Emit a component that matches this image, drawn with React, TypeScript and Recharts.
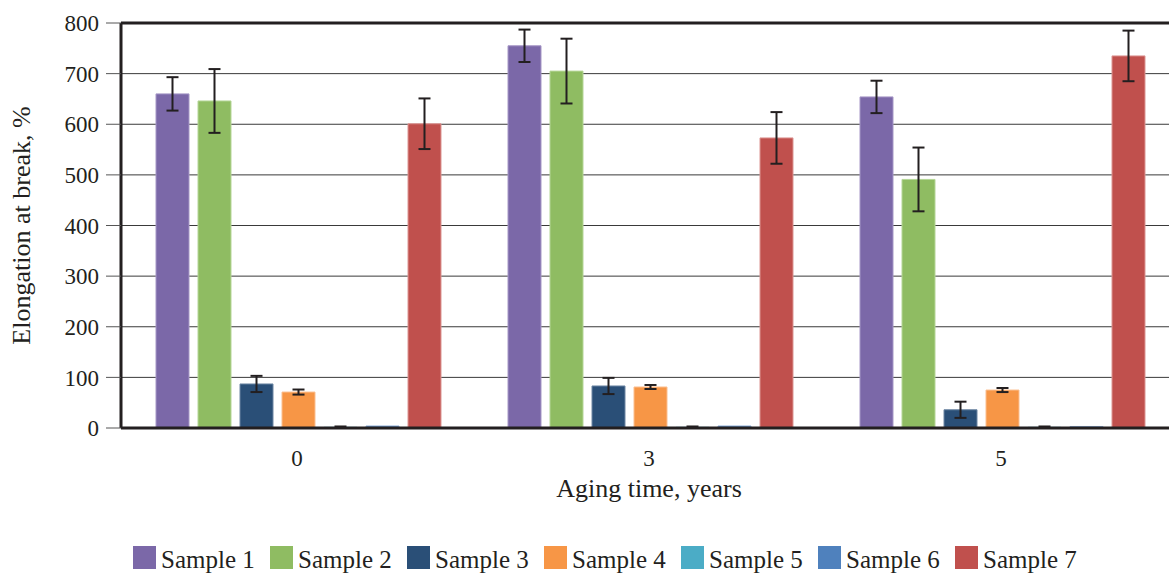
import React from 'react';
import { BarChart, Bar, XAxis, YAxis, CartesianGrid, ErrorBar, ReferenceLine } from 'recharts';

const categories = ['0', '3', '5'];
const sample1 = [660, 755, 654];
const sample1Err = [33, 32, 32];
const sample2 = [646, 705, 491];
const sample2Err = [63, 64, 63];
const sample3 = [87, 83, 36];
const sample3Err = [16, 16, 16];
const sample4 = [71, 81, 75];
const sample4Err = [5, 4, 4];
const sample5 = [1.5, 1.5, 1.5];
const sample5Err = [1.5, 1.5, 1.5];
const sample6 = [4, 4, 3];
const sample7 = [601, 573, 735];
const sample7Err = [50, 51, 50];
const yTicks = [0, 100, 200, 300, 400, 500, 600, 700, 800];

const seriesNames = ['Sample 1', 'Sample 2', 'Sample 3', 'Sample 4', 'Sample 5', 'Sample 6', 'Sample 7'];
const colors = ['#7b68a8', '#8fbc62', '#2a4f77', '#f79646', '#4bacc6', '#4f81bd', '#c0504d'];
const edgeColors = ['#a697c6', '#b5d697', '#6c86a3', '#fbbf90', '#8fcfe0', '#93b2da', '#dc9593'];

const data = categories.map((c, i) => ({
  cat: c,
  s1: sample1[i], e1: sample1Err[i],
  s2: sample2[i], e2: sample2Err[i],
  s3: sample3[i], e3: sample3Err[i],
  s4: sample4[i], e4: sample4Err[i],
  s5: sample5[i], e5: sample5Err[i],
  s6: sample6[i],
  s7: sample7[i], e7: sample7Err[i],
}));

const FONT = '"Liberation Serif", serif';
const TEXT = '#231f20';
const errKeys = ['e1', 'e2', 'e3', 'e4', 'e5', null, 'e7'];

export default function App() {
  return (
    <div style={{ position: 'relative', width: 1169, height: 574, overflow: 'hidden', background: '#fff' }}>
      <style>{`body{margin:0;overflow:hidden;background:#fff}`}</style>
      <div style={{ position: 'absolute', left: 0, top: 0 }}>
        <BarChart
          width={1200}
          height={525}
          data={data}
          margin={{ top: 23, right: 23, bottom: 0, left: 0 }}
          barCategoryGap={35}
          barGap={9}
        >
          <CartesianGrid vertical={false} horizontal={true} stroke="#3a3a3a" strokeWidth={1} />
          <XAxis
            dataKey="cat"
            height={97}
            tickLine={false}
            axisLine={{ stroke: TEXT, strokeWidth: 3 }}
            tickMargin={16}
            tick={{ fontFamily: FONT, fontSize: 23, fill: TEXT }}
            label={{ value: 'Aging time, years', position: 'insideBottom', offset: 28, style: { fontFamily: FONT, fontSize: 26, fill: TEXT } }}
          />
          <YAxis
            width={121}
            domain={[0, 800]}
            ticks={yTicks}
            interval={0}
            tickSize={15}
            tickMargin={7}
            tickLine={{ stroke: '#555' }}
            axisLine={{ stroke: TEXT, strokeWidth: 3 }}
            tick={{ fontFamily: FONT, fontSize: 23, fill: TEXT }}
            label={{ value: 'Elongation at break, %', angle: -90, position: 'insideLeft', offset: 21, style: { textAnchor: 'middle', fontFamily: FONT, fontSize: 26, fill: TEXT } }}
          />
          {seriesNames.map((name, i) => (
            <Bar
              key={name}
              dataKey={`s${i + 1}`}
              name={name}
              fill={colors[i]}
              stroke={edgeColors[i]}
              strokeWidth={1}
              isAnimationActive={false}
            >
              {errKeys[i] ? (
                <ErrorBar dataKey={errKeys[i] as string} width={6} strokeWidth={2} stroke={TEXT} isAnimationActive={false} />
              ) : null}
            </Bar>
          ))}
          <ReferenceLine y={800} stroke={TEXT} strokeWidth={3} />
        </BarChart>
      </div>
      <div style={{ position: 'absolute', left: 133, top: 546, display: 'flex', fontFamily: FONT, fontSize: 25, color: TEXT }}>
        {seriesNames.map((name, i) => (
          <div key={name} style={{ width: 137, display: 'flex', alignItems: 'center', height: 23 }}>
            <div style={{ width: 23, height: 23, background: colors[i], marginRight: 5, flexShrink: 0 }} />
            <span style={{ whiteSpace: 'nowrap', lineHeight: '23px', position: 'relative', top: 2 }}>{name}</span>
          </div>
        ))}
      </div>
    </div>
  );
}
